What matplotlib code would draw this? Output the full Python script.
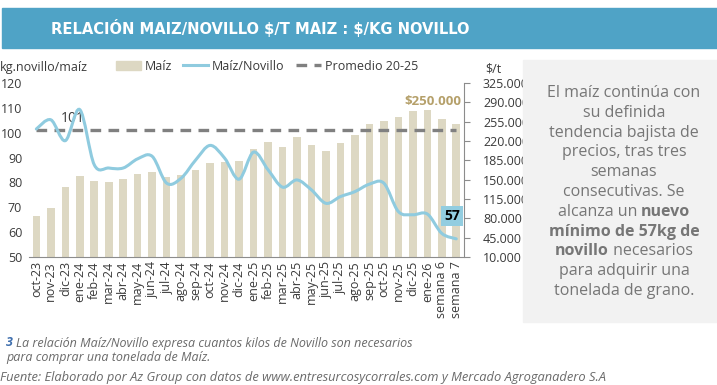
import matplotlib
matplotlib.use("Agg")
import matplotlib.pyplot as plt
from matplotlib.path import Path
from matplotlib.patches import PathPatch, Patch, Rectangle
from matplotlib.lines import Line2D
from matplotlib.ticker import FuncFormatter
from matplotlib import font_manager

plt.rcParams['font.family'] = ['Open Sans', 'DejaVu Sans']

categorias = ["oct-23", "nov-23", "dic-23", "ene-24", "feb-24", "mar-24", "abr-24",
              "may-24", "jun-24", "jul-24", "ago-24", "sep-24", "oct-24", "nov-24",
              "dic-24", "ene-25", "feb-25", "mar-25", "abr-25", "may-25", "jun-25",
              "jul-25", "ago-25", "sep-25", "oct-25", "nov-25", "dic-25", "ene-26",
              "semana 6", "semana 7"]
maiz = [85000, 99000, 136000, 156000, 147000, 145000, 151000, 161000, 164000, 154000,
        159000, 168000, 181000, 182000, 183000, 205000, 218000, 210000, 227000, 213000,
        202000, 217000, 231000, 250000, 257000, 263000, 274000, 277000, 260000, 250000]
relacion = [101.5, 105.2, 96.8, 109.3, 87.1, 85.8, 85.8, 89.5, 90.5, 79.7,
            81.7, 89.0, 94.9, 89.8, 81.3, 92.2, 85.1, 78.1, 81.0, 77.0,
            71.6, 74.3, 76.3, 79.3, 79.7, 68.3, 67.0, 67.3, 59.5, 57.3]
promedio = 101

C_BAR = "#ddd8c3"
C_LINE = "#8fcbdf"
C_DASH = "#808080"
C_TXT = "#3a3a3a"

# fuente angosta para el título, si hay alguna
title_kw = dict(family="Open Sans")
for f in font_manager.fontManager.ttflist:
    if f.name == "Liberation Sans Narrow":
        title_kw = dict(family="Liberation Sans Narrow")
        break
    if f.name == "DejaVu Sans" and f.stretch == "condensed":
        title_kw = dict(family="DejaVu Sans", fontstretch="condensed")

W, H = 717, 385
fig = plt.figure(figsize=(W / 100, H / 100), dpi=100)
renderer = fig.canvas.get_renderer()


def fx(px):
    return px / W


def fy(py):
    return 1 - py / H


# banner
fig.patches.append(Rectangle((fx(2), fy(48)), fx(715), 40 / H, transform=fig.transFigure,
                             color="#4fa3c6", zorder=0))
titulo = fig.text(fx(260), fy(28), r"RELACIÓN MAIZ/NOVILLO \$/T MAIZ : \$/KG NOVILLO",
                  ha="center", va="center", color="white", fontweight="bold",
                  fontsize=16, **title_kw)
tw = titulo.get_window_extent(renderer).width
titulo.set_fontsize(min(17.5, 16 * 420 / tw))

# side box
fig.patches.append(Rectangle((fx(523), fy(322)), fx(194), 262 / H, transform=fig.transFigure,
                             color="#f2f2f2", zorder=0))

ax2 = fig.add_axes([fx(29.1), fy(257), fx(434.4), 174 / H])
ax = ax2.twinx()
ax.yaxis.set_ticks_position("left")
ax.yaxis.set_label_position("left")
ax2.yaxis.set_ticks_position("right")
ax2.yaxis.set_label_position("right")
ax.set_zorder(ax2.get_zorder() + 1)
ax.patch.set_visible(False)

x = list(range(len(categorias)))
ax2.bar(x, maiz, width=0.52, color=C_BAR, zorder=2)
ax2.set_ylim(10000, 325000)
ax2.set_yticks(range(10000, 325001, 35000))
ax2.yaxis.set_major_formatter(FuncFormatter(lambda v, p: f"{int(v):,}".replace(",", ".")))
ax.set_ylim(50, 120)
ax.set_yticks(range(50, 121, 10))
ax.set_xlim(-0.5, len(categorias) - 0.5)

# línea suavizada (Catmull-Rom sobre los puntos)
pts = list(zip(x, relacion))
verts = [pts[0]]
codes = [Path.MOVETO]
n = len(pts)
for i in range(n - 1):
    p0 = pts[i - 1] if i > 0 else pts[i]
    p1 = pts[i]
    p2 = pts[i + 1]
    p3 = pts[i + 2] if i + 2 < n else pts[i + 1]
    c1 = (p1[0] + (p2[0] - p0[0]) / 6, p1[1] + (p2[1] - p0[1]) / 6)
    c2 = (p2[0] - (p3[0] - p1[0]) / 6, p2[1] - (p3[1] - p1[1]) / 6)
    verts += [c1, c2, p2]
    codes += [Path.CURVE4] * 3
ax.add_patch(PathPatch(Path(verts, codes), fill=False, edgecolor=C_LINE, lw=2.2,
                       zorder=4, capstyle="round"))

ax.plot([x[0], x[-1]], [promedio, promedio], color=C_DASH, lw=2.4,
        dashes=(3.2, 2.2), zorder=3)

for a in (ax, ax2):
    for s in ("top", "left", "right", "bottom"):
        a.spines[s].set_visible(False)
ax2.spines["right"].set_visible(True)
ax2.spines["right"].set_color("#8c8c8c")
ax2.spines["bottom"].set_visible(True)
ax2.spines["bottom"].set_color("#8c8c8c")
ax2.set_xticks([i - 0.5 for i in range(len(categorias) + 1)])
ax2.set_xticklabels([])
ax2.tick_params(axis="x", length=5, color="#8c8c8c", direction="out")
ax2.set_xticks(x, minor=True)
ax2.set_xticklabels(categorias, minor=True, rotation=90, fontsize=9, color=C_TXT)
ax2.tick_params(axis="x", which="minor", length=0, pad=3)
ax2.tick_params(axis="y", length=4, color="#8c8c8c", labelsize=9, labelcolor=C_TXT, pad=10)
ax.tick_params(axis="y", length=0, labelsize=9, labelcolor=C_TXT, pad=5)
ax.set_xticks([])

# anotaciones
ax.text(2.5, 105.6, "101", fontsize=10, color=C_TXT, ha="center", va="center")
ax2.text(29.35, 291000, "$250.000", fontsize=9.5, color="#b5a06a", fontweight="bold",
         ha="right", va="center")
ax.text(28.7, 66.5, "57", fontsize=10, color="black", fontweight="bold", ha="center",
        va="center", bbox=dict(boxstyle="square,pad=0.25", fc="#92cde0", ec="none"))

fig.text(fx(0), fy(67), "kg.novillo/maíz", fontsize=9, color=C_TXT, ha="left", va="center")
fig.text(fx(493), fy(69), "$/t", fontsize=9, color=C_TXT, ha="center", va="center")

handles = [Patch(color=C_BAR), Line2D([], [], color=C_LINE, lw=2.2),
           Line2D([], [], color=C_DASH, lw=2.4, dashes=(3.2, 2.2))]
fig.legend(handles, ["Maíz", "Maíz/Novillo", "Promedio 20-25"], loc="center",
           bbox_to_anchor=(fx(267), fy(66)), ncol=3, frameon=False, fontsize=9,
           handlelength=2.0, handletextpad=0.3, columnspacing=0.9, labelcolor=C_TXT)


def line_parts(cy, parts, **kw):
    objs = [fig.text(0, fy(cy), txt, va="center", ha="left", **kw, **extra)
            for txt, extra in parts]
    widths = [o.get_window_extent(renderer).width for o in objs]
    return objs, widths


def place(objs, widths, left_px):
    pos = left_px
    for o, w in zip(objs, widths):
        o.set_x(fx(pos))
        pos += w


side = [
    [("El maíz continúa con", {})],
    [("su definida", {})],
    [("tendencia bajista de", {})],
    [("precios, tras tres", {})],
    [("semanas", {})],
    [("consecutivas. Se", {})],
    [("alcanza un ", {}), ("nuevo", {"fontweight": "bold"})],
    [("mínimo de 57kg de", {"fontweight": "bold"})],
    [("novillo", {"fontweight": "bold"}), (" necesarios", {})],
    [("para adquirir una", {})],
    [("tonelada de grano.", {})],
]
for k, parts in enumerate(side):
    objs, widths = line_parts(93 + k * 19.8, parts, fontsize=11.5, color="#767676")
    place(objs, widths, 624 - sum(widths) / 2)

objs, widths = line_parts(343, [("3 ", {"fontweight": "bold", "color": "#3f6fae"}),
                                ("La relación Maíz/Novillo expresa cuantos kilos de Novillo son necesarios",
                                 {"color": "#6a6a6a"})],
                          fontsize=9, style="italic")
place(objs, widths, 6)
fig.text(fx(6), fy(357), "para comprar una tonelada de Maíz.", fontsize=9, style="italic",
         color="#6a6a6a", va="center")
fig.text(fx(0), fy(377), "Fuente: Elaborado por Az Group con datos de www.entresurcosycorrales.com y Mercado Agroganadero S.A",
         fontsize=9.3, style="italic", color="#6a6a6a", va="center")

fig.savefig("out.png", dpi=100)
